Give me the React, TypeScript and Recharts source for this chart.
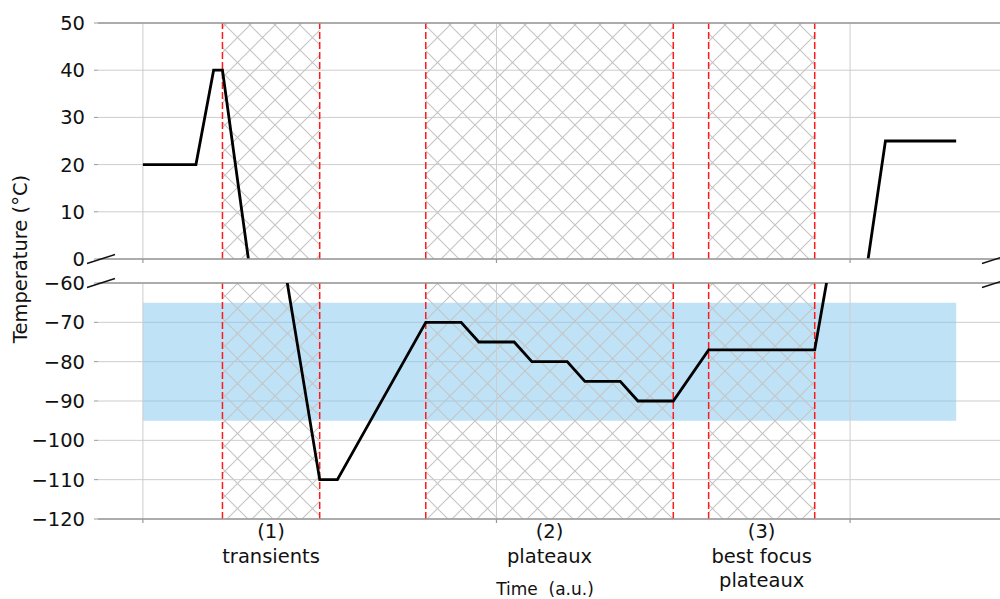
import React from 'react';
import { LineChart, Line, XAxis, YAxis, CartesianGrid, ReferenceArea, ReferenceLine, Label } from 'recharts';

// temperature profile (time in a.u., temperature in °C)
const times = [0, 1.5, 2, 2.25, 5, 5.5, 8, 9, 9.5, 10.5, 11, 12, 12.5, 13.5, 14, 15, 16, 19, 21, 23];
const temps = [20, 20, 40, 40, -110, -110, -70, -70, -75, -75, -80, -80, -85, -85, -90, -90, -77, -77, 25, 25];

const phaseSpans = [[2.25, 5], [8, 15], [16, 19]];
const phaseNames = [['(1)', 'transients'], ['(2)', 'plateaux'], ['(3)', 'best focus', 'plateaux']];
const phaseMarkers = [2.25, 5, 8, 15, 16, 19];
const targetBand = [-95, -65];
const targetSpan = [0, 23];

const timeTicks = [0, 10, 20];
const upperTicks = [0, 10, 20, 30, 40, 50];
const lowerTicks = [-120, -110, -100, -90, -80, -70, -60];
const timeDomain = [-1.27, 24.24];

const data = times.map((t, i) => ({ t, temp: temps[i] }));
const phaseCentres = phaseSpans.map(([a, b]) => (a + b) / 2);
const lowerAxisTicks = [...timeTicks, ...phaseCentres].sort((a, b) => a - b);

const W = 1000;
const TOP_H = 271;
const BOTTOM_H = 328;
const PLOT_LEFT = 98;
const GRID = '#cdcdcd';
const SPINE = '#999999';
const TEXT = '#111111';

const fmt = (v: number) => String(v).replace('-', '\u2212');

function TimeTick(props: any) {
  const { x, y, payload, showNames } = props;
  const idx = phaseCentres.indexOf(payload.value);
  if (idx < 0) {
    return <line x1={x} x2={x} y1={y} y2={y + 4} stroke={SPINE} strokeWidth={1.2} />;
  }
  if (!showNames) return null;
  return (
    <text x={x} y={y} textAnchor="middle" fontSize={19.5} fill={TEXT}>
      {phaseNames[idx].map((s, i) => (
        <tspan key={i} x={x} y={y + 19 + i * 24.5}>{s}</tspan>
      ))}
    </text>
  );
}

function Hatch({ id }: { id: string }) {
  return (
    <defs>
      <pattern id={id} patternUnits="userSpaceOnUse" width={25} height={25}>
        <path d="M0,0 L25,25 M25,0 L0,25" stroke="#c4c4c4" strokeWidth={1.1} fill="none" />
      </pattern>
    </defs>
  );
}

export default function App() {
  const breakMark = (x: number, y: number, key: string) => (
    <line key={key} x1={x - 11} y1={y + 4.5} x2={x + 17} y2={y - 4.5} stroke="#111" strokeWidth={1.4} />
  );
  const tickStyle = { fill: TEXT, fontSize: 19.5 };

  return (
    <div style={{ position: 'absolute', left: 0, top: 0, width: W, height: TOP_H + BOTTOM_H, fontFamily: '"DejaVu Sans", sans-serif', background: '#fff' }}>
      <div style={{ position: 'absolute', left: 0, top: 0 }}>
        <LineChart width={W} height={TOP_H} data={data} margin={{ top: 23, right: 0, bottom: 0, left: 0 }}>
          <Hatch id="hatchTop" />
          <CartesianGrid vertical={false} stroke={GRID} />
          {timeTicks.map((t) => (
            <ReferenceLine key={'g' + t} x={t} stroke={GRID} />
          ))}
          {phaseSpans.map(([a, b], i) => (
            <ReferenceArea key={'h' + i} x1={a} x2={b} fill="url(#hatchTop)" fillOpacity={1} stroke="none" />
          ))}
          {phaseMarkers.map((m) => (
            <ReferenceLine key={'m' + m} x={m} stroke="#ff1a1a" strokeWidth={1.5} strokeDasharray="7 3" />
          ))}
          <ReferenceLine y={50} stroke={SPINE} strokeWidth={1.5} />
          <XAxis
            dataKey="t"
            type="number"
            domain={timeDomain}
            ticks={timeTicks}
            interval={0}
            height={12}
            axisLine={{ stroke: SPINE, strokeWidth: 1.5 }}
            tickLine={false}
            tickSize={0}
            tickMargin={0}
            tick={(p: any) => <TimeTick {...p} />}
            allowDataOverflow
          />
          <YAxis
            type="number"
            domain={[0, 50]}
            ticks={upperTicks}
            interval={0}
            width={PLOT_LEFT}
            axisLine={false}
            tickLine={{ stroke: SPINE }}
            tickSize={4}
            tickMargin={9}
            tick={tickStyle}
            tickFormatter={fmt}
            allowDataOverflow
          />
          <Line dataKey="temp" type="linear" stroke="#000" strokeWidth={2.8} dot={false} isAnimationActive={false} />
        </LineChart>
      </div>
      <div style={{ position: 'absolute', left: 0, top: TOP_H }}>
        <LineChart width={W} height={BOTTOM_H} data={data} margin={{ top: 12, right: 0, bottom: 0, left: 0 }}>
          <Hatch id="hatchBottom" />
          <CartesianGrid vertical={false} stroke={GRID} />
          {timeTicks.map((t) => (
            <ReferenceLine key={'g' + t} x={t} stroke={GRID} />
          ))}
          <ReferenceArea x1={targetSpan[0]} x2={targetSpan[1]} y1={targetBand[0]} y2={targetBand[1]} fill="#7fc6f0" fillOpacity={0.5} stroke="none" />
          {phaseSpans.map(([a, b], i) => (
            <ReferenceArea key={'h' + i} x1={a} x2={b} fill="url(#hatchBottom)" fillOpacity={1} stroke="none" />
          ))}
          {phaseMarkers.map((m) => (
            <ReferenceLine key={'m' + m} x={m} stroke="#ff1a1a" strokeWidth={1.5} strokeDasharray="7 3" />
          ))}
          <ReferenceLine y={-60} stroke={SPINE} strokeWidth={1.5} />
          <XAxis
            dataKey="t"
            type="number"
            domain={timeDomain}
            ticks={lowerAxisTicks}
            interval={0}
            height={80}
            axisLine={{ stroke: SPINE, strokeWidth: 1.5 }}
            tickLine={false}
            tickSize={0}
            tickMargin={0}
            tick={(p: any) => <TimeTick {...p} showNames />}
            allowDataOverflow
          >
            <Label value={'Time\u00A0 (a.u.)'} position="insideBottom" offset={4} dx={-4} fontSize={17} fill={TEXT} />
          </XAxis>
          <YAxis
            type="number"
            domain={[-120, -60]}
            ticks={lowerTicks}
            interval={0}
            width={PLOT_LEFT}
            axisLine={false}
            tickLine={{ stroke: SPINE }}
            tickSize={4}
            tickMargin={9}
            tick={tickStyle}
            tickFormatter={fmt}
            allowDataOverflow
          />
          <Line dataKey="temp" type="linear" stroke="#000" strokeWidth={2.8} dot={false} isAnimationActive={false} />
        </LineChart>
      </div>
      <svg width={W} height={TOP_H + BOTTOM_H} style={{ position: 'absolute', left: 0, top: 0, pointerEvents: 'none' }}>
        <text x={-259} y={20.5} transform="rotate(-90)" textAnchor="middle" dominantBaseline="central" fontSize={19.5} fill={TEXT}>
          Temperature (°C)
        </text>
        {breakMark(PLOT_LEFT, 259, 'l1')}
        {breakMark(PLOT_LEFT, 283, 'l2')}
        {breakMark(993, 259, 'r1')}
        {breakMark(993, 283, 'r2')}
      </svg>
    </div>
  );
}
